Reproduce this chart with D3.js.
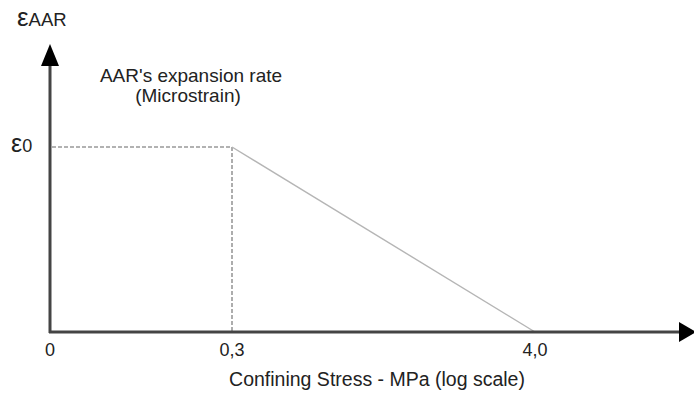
<!DOCTYPE html>
<html>
<head>
<meta charset="utf-8">
<script src="https://cdn.jsdelivr.net/npm/d3@7"></script>
<style>
  body { margin: 0; background: #fff; }
  text { font-family: "Liberation Sans", Arial, sans-serif; fill: #222; }
</style>
</head>
<body>
<div id="chart"></div>
<script>
// stress values (MPa) and their tick labels
var stress = [0, 0.3, 4.0];
var stressLabels = ["0", "0,3", "4,0"];
// expansion rate relative to eps0 at each stress
var rate = [1, 1, 0];

var W = 694, H = 394;
var x0 = 50, y0 = 332;

var svg = d3.select("#chart").append("svg")
  .attr("width", W).attr("height", H);

// piecewise scale, the drawing is "log scale" but not to true proportion
var x = d3.scaleLinear().domain(stress).range([x0, 232, 535]);
var y = d3.scaleLinear().domain([0, 1]).range([y0, 147]);

// dashed guides to eps0
svg.append("path")
  .attr("d", "M" + (x0 + 2) + "," + y(1) + "H" + x(stress[1]) + "V" + y0)
  .attr("fill", "none")
  .attr("stroke", "#999")
  .attr("stroke-width", 1.6)
  .attr("stroke-dasharray", "4,2");

// falling branch
svg.append("line")
  .attr("x1", x(stress[1])).attr("y1", y(rate[1]))
  .attr("x2", x(stress[2])).attr("y2", y(rate[2]))
  .attr("stroke", "#b5b5b5")
  .attr("stroke-width", 1.4);

// axes with arrow heads
svg.append("line")
  .attr("x1", x0).attr("y1", y0 + 1).attr("x2", x0).attr("y2", 62)
  .attr("stroke", "#444").attr("stroke-width", 3);
svg.append("path")
  .attr("d", "M" + x0 + ",44L" + (x0 + 9) + ",66L" + (x0 - 9) + ",66Z")
  .attr("fill", "#000");

svg.append("line")
  .attr("x1", x0 - 1).attr("y1", y0).attr("x2", 682).attr("y2", y0)
  .attr("stroke", "#444").attr("stroke-width", 3);
svg.append("path")
  .attr("d", "M696," + y0 + "L679," + (y0 - 10) + "L679," + (y0 + 10) + "Z")
  .attr("fill", "#000");

// tick labels
svg.selectAll(".tick-label")
  .data(stress)
  .enter().append("text")
  .attr("class", "tick-label")
  .attr("x", function(d) { return x(d); })
  .attr("y", 356)
  .attr("text-anchor", "middle")
  .style("font-size", "18px")
  .text(function(d, i) { return stressLabels[i]; });

svg.append("text")
  .attr("x", 377).attr("y", 386)
  .attr("text-anchor", "middle")
  .style("font-size", "19.5px")
  .text("Confining Stress - MPa (log scale)");

// y labels
var yl = svg.append("text").attr("x", 17).attr("y", 26);
yl.append("tspan").style("font-size", "26px").text("ε");
yl.append("tspan").style("font-size", "18.5px").text("AAR");

var e0 = svg.append("text").attr("x", 11).attr("y", 152);
e0.append("tspan").style("font-size", "25px").text("ε");
e0.append("tspan").style("font-size", "18px").text("0");

svg.append("text")
  .attr("x", 191).attr("y", 82)
  .attr("text-anchor", "middle")
  .style("font-size", "19px")
  .text("AAR's expansion rate");
svg.append("text")
  .attr("x", 188).attr("y", 102)
  .attr("text-anchor", "middle")
  .style("font-size", "19px")
  .text("(Microstrain)");
</script>
</body>
</html>
